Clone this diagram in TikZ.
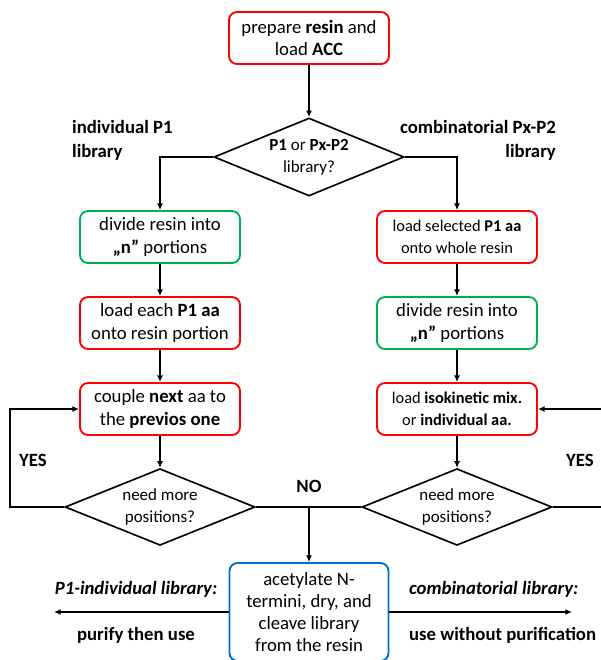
\documentclass[tikz,border=0pt]{standalone}
\usepackage{fontspec}
\setmainfont{Carlito}
\usetikzlibrary{arrows.meta,shapes.geometric}
\definecolor{boxred}{RGB}{255,0,0}
\definecolor{boxgreen}{RGB}{0,176,80}
\definecolor{boxblue}{RGB}{0,112,192}
\tikzset{
	stepbox/.style={draw, line width=1.6pt, rounded corners=2.4mm, minimum width=4.8cm, minimum height=1.56cm, align=center, inner sep=2pt, font=\fontsize{16}{19}\selectfont},
	redbox/.style={stepbox, draw=boxred},
	greenbox/.style={stepbox, draw=boxgreen},
	bluebox/.style={stepbox, draw=boxblue},
	query/.style={draw, diamond, line width=1.4pt, aspect=2.4, minimum width=5.7cm, minimum height=2.3cm, inner sep=0pt, align=center, font=\fontsize{14.5}{19}\selectfont},
	flow/.style={line width=1.4pt, -{Latex[length=2mm,width=1.8mm]}},
	wire/.style={line width=1.4pt},
	lbl/.style={font=\bfseries\fontsize{16}{20.5}\selectfont},
}

\begin{document}
\begin{tikzpicture}[x=0.03cm, y=-0.03cm]
			%%%%% START %%%%%
			\useasboundingbox (0, 0) rectangle (601, 660);
			
			\node[redbox] (prep) at (309, 38) {prepare \textbf{resin} and\\load \textbf{ACC}};
			\node[query, minimum height=2.34cm] (choice) at (309, 157) {\textbf{P1} or \textbf{Px-P2}\\library?};
			
			\node[lbl, anchor=west, align=left] (indiv) at (68, 140) {individual P1\\library};
			\node[lbl, anchor=east, align=right] (combi) at (560, 140) {combinatorial Px-P2\\library};
			
			% left column
			\node[greenbox] (divideL) at (160, 237) {divide resin into\\\textbf{„n”} portions};
			\node[redbox] (loadL) at (160, 323) {load each \textbf{P1 aa}\\onto resin portion};
			\node[redbox] (coupleL) at (160, 409) {couple \textbf{next} aa to\\the \textbf{previos one}};
			\node[query] (needL) at (160, 507) {need more\\positions?};
			
			% right column
			\node[redbox, font=\fontsize{14}{19}\selectfont] (loadR) at (457, 237) {load selected \textbf{P1 aa}\\onto whole resin};
			\node[greenbox] (divideR) at (457, 323) {divide resin into\\\textbf{„n”} portions};
			\node[redbox, font=\fontsize{14}{19}\selectfont] (isoR) at (457, 409) {load \textbf{isokinetic mix.}\\or \textbf{individual aa.}};
			\node[query] (needR) at (457, 507) {need more\\positions?};
			
			\node[bluebox, minimum width=4.77cm, minimum height=2.94cm] (final) at (309, 612) {acetylate N-\\termini, dry, and\\cleave library\\from the resin};
			
			\coordinate (loopL) at (10, 457);
			\coordinate (loopR) at (606, 457);
			\coordinate (no) at (309, 507);
			\coordinate (outL) at (54, 612);
			\coordinate (outR) at (572, 612);
			
			\draw[flow] (prep) -- (choice);
			\draw[flow] (choice.west) -| (divideL.north);
			\draw[flow] (choice.east) -| (loadR.north);
			
			\draw[flow] (divideL) -- (loadL);
			\draw[flow] (loadL) -- (coupleL);
			\draw[flow] (coupleL) -- (needL);
			\draw[flow] (loadR) -- (divideR);
			\draw[flow] (divideR) -- (isoR);
			\draw[flow] (isoR) -- (needR);
			
			\draw[flow] (needL.west) -| (loopL) |- (coupleL.west);
			\draw[flow] (needR.east) -| (loopR) |- (isoR.east);
			\node[lbl] (yesL) at (33, 460) {YES};
			\node[lbl] (yesR) at (580, 460) {YES};
			
			\draw[wire] (needL.east) -- (needR.west);
			\draw[flow] (no) -- (final.north);
			\node[lbl] (noL) at (309, 486) {NO};
			
			\draw[flow] (final.west) -- (outL);
			\draw[flow] (final.east) -- (outR);
			\node[lbl, font=\bfseries\itshape\fontsize{16}{20.5}\selectfont] (libL) at (136, 589) {P1-individual library:};
			\node[lbl] (useL) at (136, 635) {purify then use};
			\node[lbl, font=\bfseries\itshape\fontsize{16}{20.5}\selectfont, anchor=west] (libR) at (405, 589) {combinatorial library:};
			\node[lbl, anchor=west] (useR) at (405, 635) {use without purification};
			
			%%%%% END %%%%%
\end{tikzpicture}
\end{document}
